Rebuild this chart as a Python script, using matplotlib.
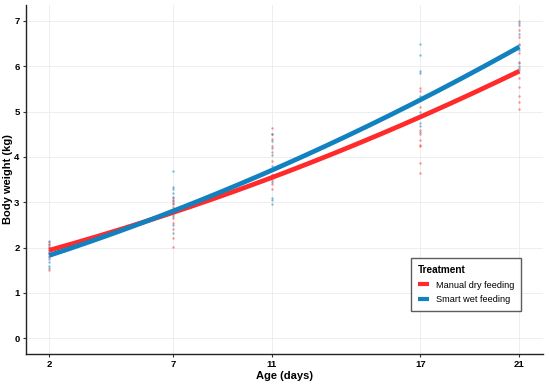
import numpy as np
import matplotlib
matplotlib.use("Agg")
import matplotlib.pyplot as plt

plt.rcParams["font.family"] = ["Liberation Sans", "DejaVu Sans"]

# ages sampled
AGES = [2, 7, 11, 17, 21]

# individual weights (kg) per age
DRY_PTS = {
    2: [2.12, 2.08, 2.02, 1.98, 1.95, 1.90, 1.85, 1.78, 1.50],
    7: [3.10, 3.02, 2.98, 2.90, 2.84, 2.75, 2.65, 2.55, 2.40, 2.20, 2.02],
    11: [4.64, 4.50, 4.40, 4.25, 4.10, 3.90, 3.60, 3.48, 3.40, 3.30],
    17: [5.52, 5.45, 5.10, 4.60, 4.50, 4.38, 4.27, 4.24, 3.87, 3.65],
    21: [6.96, 6.80, 6.65, 6.50, 6.30, 6.10, 5.95, 5.75, 5.55, 5.35, 5.20, 5.05],
}
WET_PTS = {
    2: [2.15, 2.05, 1.95, 1.88, 1.82, 1.75, 1.68, 1.60, 1.55],
    7: [3.68, 3.33, 3.28, 3.20, 3.12, 3.05, 2.95, 2.80, 2.70, 2.50, 2.33],
    11: [4.50, 4.35, 4.20, 4.05, 3.80, 3.60, 3.45, 3.10, 3.05, 2.95],
    17: [6.49, 6.25, 5.90, 5.85, 5.35, 5.26, 5.00, 4.75, 4.68, 4.55],
    21: [7.00, 6.90, 6.70, 6.47, 6.36, 6.07, 6.00, 5.92],
}

# fitted curve values at each age
DRY_FIT = [1.95, 2.75, 3.55, 4.90, 5.88]
WET_FIT = [1.85, 2.75, 3.72, 5.30, 6.40]

LABELS = ["Manual dry feeding", "Smart wet feeding"]
COLORS = ["#ff2b2b", "#1281bf"]


def main():
    fig = plt.figure(figsize=(5.5, 3.84), dpi=100)
    ax = fig.add_axes([0.047, 0.078, 0.94, 0.909])

    ax.grid(True, color="#ebebeb", linewidth=0.6)
    ax.set_axisbelow(True)

    for pts, color in zip([DRY_PTS, WET_PTS], COLORS):
        for age, vals in pts.items():
            ax.scatter([age] * len(vals), vals, s=3, color=color,
                       alpha=0.5, linewidths=0, zorder=2)

    grid = np.linspace(min(AGES), max(AGES), 200)
    for fit, color, label in zip([DRY_FIT, WET_FIT], COLORS, LABELS):
        coef = np.polyfit(AGES, fit, 2)
        ax.plot(grid, np.polyval(coef, grid), color=color, lw=3.4,
                label=label, zorder=3, solid_capstyle="butt")

    ax.set_xlim(1.05, 21.95)
    ax.set_ylim(-0.35, 7.35)
    ax.set_xticks(AGES)
    ax.set_yticks(range(0, 8))

    for side in ["top", "right"]:
        ax.spines[side].set_visible(False)
    for side in ["left", "bottom"]:
        ax.spines[side].set_linewidth(1.0)
        ax.spines[side].set_color("#222222")

    ax.tick_params(length=2.5, width=0.8, color="#333333", labelsize=6.8, pad=2)
    for lab in ax.get_xticklabels() + ax.get_yticklabels():
        lab.set_fontweight("bold")

    ax.set_xlabel("Age (days)", fontsize=8, fontweight="bold", labelpad=1)
    ax.set_ylabel("Body weight (kg)", fontsize=8, fontweight="bold", labelpad=1)

    leg = ax.legend(title="Treatment", loc="lower right",
                    bbox_to_anchor=(0.967, 0.11), fontsize=6.6,
                    title_fontproperties={"weight": "bold", "size": 7.2},
                    frameon=True, fancybox=False, handlelength=1.2,
                    borderpad=0.75, labelspacing=0.6, handletextpad=0.75)
    leg._legend_box.align = "left"
    frame = leg.get_frame()
    frame.set_edgecolor("#333333")
    frame.set_linewidth(1.0)
    for line in leg.get_lines():
        line.set_linewidth(3.0)

    fig.savefig("out.png", dpi=100)


if __name__ == "__main__":
    main()
